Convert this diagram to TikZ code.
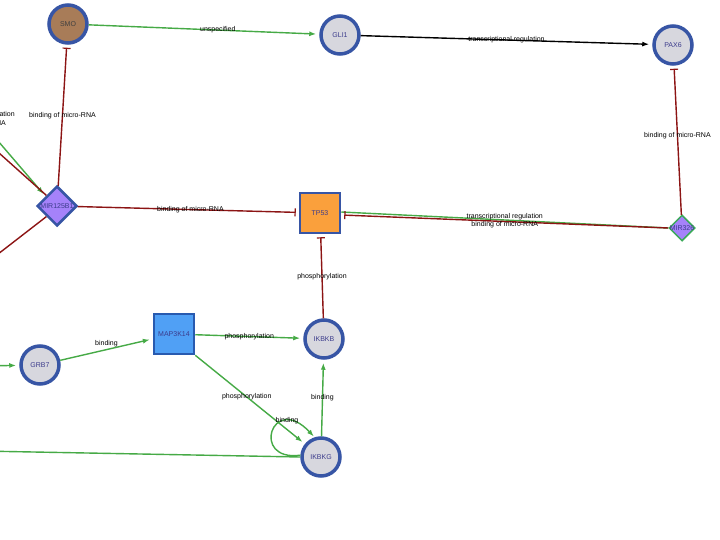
\documentclass[tikz,border=0pt]{standalone}
\usepackage{fontspec}
\setsansfont{Liberation Sans}
\usetikzlibrary{arrows.meta,positioning,shapes.geometric}
\definecolor{nodeblue}{RGB}{55,85,165}
\definecolor{labelblue}{RGB}{60,60,140}
\definecolor{genegray}{RGB}{215,215,222}
\definecolor{smobrown}{RGB}{168,124,88}
\definecolor{tporange}{RGB}{250,160,60}
\definecolor{mapblue}{RGB}{80,160,245}
\definecolor{mapborder}{RGB}{40,90,175}
\definecolor{mirpurple}{RGB}{165,130,250}
\definecolor{mirgreen}{RGB}{60,170,90}
\definecolor{edgegreen}{RGB}{70,170,70}
\definecolor{edgered}{RGB}{140,20,20}
\tikzset{
gene/.style={
  circle,
  draw=nodeblue,
  line width=3.5pt,
  fill=genegray,
  minimum size=38pt,
  inner sep=0pt,
  text=labelblue,
  font=\sffamily\fontsize{7}{8}\selectfont
  },
prot/.style={
  rectangle,
  draw=nodeblue,
  line width=2.5pt,
  fill=tporange,
  minimum size=40pt,
  inner sep=0pt,
  text=labelblue,
  font=\sffamily\fontsize{7}{8}\selectfont
  },
mirna/.style={
  diamond,
  draw=nodeblue,
  line width=2.5pt,
  fill=mirpurple,
  minimum size=40pt,
  inner sep=0pt,
  text=labelblue,
  font=\sffamily\fontsize{7}{8}\selectfont
  },
act/.style={draw=edgegreen, line width=1.4pt, shorten >=3pt, -{Latex[length=7pt,width=5pt]}},
inh/.style={draw=edgered, line width=1.4pt, shorten >=3pt, -{Bar[width=8pt,line width=1.2pt]}},
elabel/.style={text=black, font=\sffamily\fontsize{7}{8}\selectfont, inner sep=1pt}
}
\newcommand{\wide}[1]{\makebox[0pt]{#1}}

\begin{document}
\begin{tikzpicture}[x=1pt,y=-1pt,>=latex]
\useasboundingbox[fill=white] (0,0) rectangle (720,540);

% nodes
\node[gene, fill=smobrown, text=black!75] (smo) at (68,24) {SMO};
\node[gene] (gli1) at (340,35) {GLI1};
\node[gene] (pax6) at (673,45) {PAX6};
\node[mirna] (mir1) at (57,206) {\wide{MIR125B1}};
\node[prot] (tp53) at (320,213) {TP53};
\node[mirna, draw=mirgreen, line width=1.5pt, minimum size=26pt] (mir2) at (682,228) {\wide{MIR326}};
\node[gene] (grb7) at (40,365) {GRB7};
\node[prot, fill=mapblue, draw=mapborder] (map3k14) at (174,334) {MAP3K14};
\node[gene] (ikbkb) at (324,339) {IKBKB};
\node[gene] (ikbkg) at (321,457) {IKBKG};

% free ends off the left edge
\coordinate (inG) at (-20,120);
\coordinate (inR) at (-20,136);
\coordinate (inL) at (-20,268);
\coordinate (inGrb) at (-20,366);
\coordinate (outK) at (-20,451);

% connectors
\draw[act] (smo) -- node[elabel, pos=0.56] (l1) {unspecified} (gli1);
\draw[act, draw=black] (gli1) -- node[elabel, pos=0.5] (l2) {transcriptional regulation} (pax6);
\draw[inh] (mir1) -- node[elabel, pos=0.5] (l3) {binding of micro-RNA} (smo);
\draw[inh] (mir1) -- node[elabel, pos=0.51] (l4) {binding of micro-RNA} (tp53);
\draw[inh] (mir2) -- node[elabel, pos=0.53] (l5) {binding of micro-RNA} (pax6);
\draw[edgegreen, line width=1.4pt] (mir2.west) -- node[elabel, pos=0.5, above=-2pt] (l6) {transcriptional regulation} ([yshift=1pt]tp53.east);
\draw[inh] (mir2.west) -- node[elabel, pos=0.5, below=-2pt] (l7) {binding of micro-RNA} ([yshift=-2pt]tp53.east);
\draw[inh] (ikbkb) -- node[elabel, pos=0.5] (l8) {phosphorylation} (tp53);
\draw[act] (grb7) -- node[elabel, pos=0.5, above=1pt] (l9) {binding} (map3k14);
\draw[act] (map3k14) -- node[elabel, pos=0.5] (l10) {phosphorylation} (ikbkb);
\draw[act] (map3k14.south east) -- node[elabel, pos=0.47] (l11) {phosphorylation} (ikbkg);
\draw[act] (ikbkg) -- node[elabel, pos=0.5] (l12) {binding} (ikbkb);
\draw[act, shorten >=1pt] (ikbkg.175) .. controls (250,462) and (272,392) .. (ikbkg.108);
\node[elabel] (l13) at (287,421) {binding};

% edges coming in from the left
\draw[act] (inG) -- (mir1.140);
\draw[edgered, line width=1.4pt] (inR) -- (mir1.135);
\draw[edgered, line width=1.4pt] (inL) -- (mir1.south west);
\draw[act] (inGrb) -- (grb7);
\draw[edgegreen, line width=1.4pt] (ikbkg.west) -- (outK);
\node[elabel, anchor=east] (l14) at (16,115) {transcriptional regulation};
\node[elabel, anchor=east] (l15) at (7,124) {binding of micro-RNA};

\end{tikzpicture}
\end{document}
